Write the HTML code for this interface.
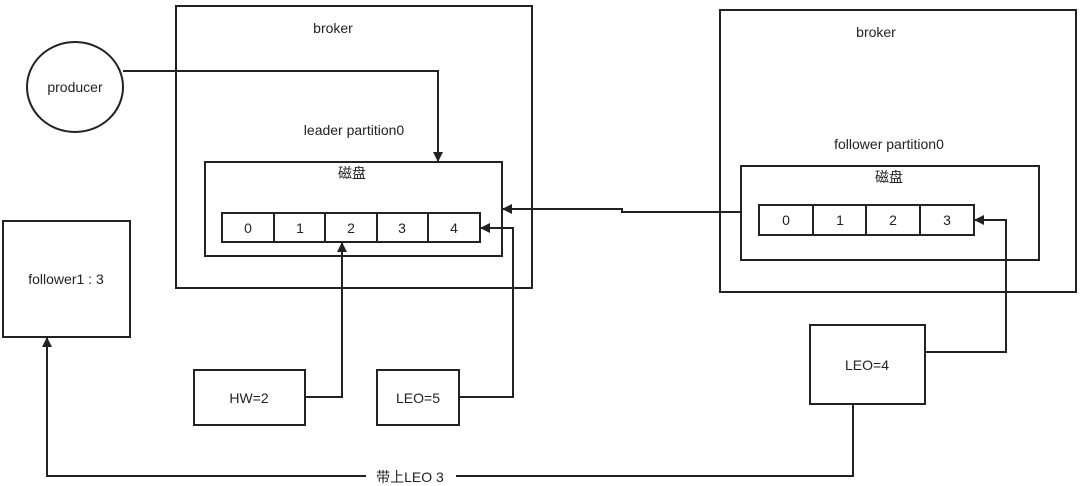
<!DOCTYPE html>
<html><head><meta charset="utf-8"><style>
html,body{margin:0;padding:0;background:#fff;}
svg{display:block;}
text{font-family:"Liberation Sans","Noto Sans CJK SC",sans-serif;font-size:14px;fill:#222;}
</style></head><body>
<svg width="1080" height="486" viewBox="0 0 1080 486" xmlns="http://www.w3.org/2000/svg">
<defs><marker id="a" markerWidth="10" markerHeight="10" refX="9" refY="5" orient="auto" markerUnits="userSpaceOnUse"><path d="M0,0 L10,5 L0,10 z" fill="#222"/></marker></defs>
<g fill="none" stroke="#222" stroke-width="2">
<rect x="176" y="6" width="356" height="282"/>
<rect x="720" y="10" width="356" height="282"/>
<ellipse cx="75" cy="87" rx="48" ry="45"/>
<rect x="205" y="162" width="297" height="94"/>
<rect x="741" y="166" width="298" height="94"/>
<rect x="222" y="213" width="258" height="29"/>
<line x1="274" y1="213" x2="274" y2="242"/><line x1="325" y1="213" x2="325" y2="242"/><line x1="377" y1="213" x2="377" y2="242"/><line x1="428" y1="213" x2="428" y2="242"/>
<rect x="759" y="205" width="215" height="30"/>
<line x1="813" y1="205" x2="813" y2="235"/><line x1="866" y1="205" x2="866" y2="235"/><line x1="920" y1="205" x2="920" y2="235"/>
<rect x="3" y="221" width="127" height="116"/>
<rect x="194" y="370" width="111" height="55"/>
<rect x="377" y="370" width="82" height="55"/>
<rect x="810" y="325" width="115" height="79"/>
<polyline points="123,71 438,71 438,161" marker-end="url(#a)"/>
<polyline points="741,212 622,212 622,209 503,209" marker-end="url(#a)"/>
<polyline points="305,397 342,397 342,243" marker-end="url(#a)"/>
<polyline points="459,397 513,397 513,228 481,228" marker-end="url(#a)"/>
<polyline points="925,352 1006,352 1006,220 975,220" marker-end="url(#a)"/>
<polyline points="853,404 853,476 47,476 47,338" marker-end="url(#a)"/>
</g>
<rect x="366" y="468" width="90" height="16" fill="#fff"/>
<g text-anchor="middle">
<text x="333" y="33">broker</text>
<text x="876" y="37">broker</text>
<text x="75" y="92">producer</text>
<text x="354" y="135">leader partition0</text>
<text x="889" y="149">follower partition0</text>
<text x="352" y="178" font-size="13">磁盘</text>
<text x="889" y="182" font-size="13">磁盘</text>
<text x="248" y="233">0</text><text x="300" y="233">1</text><text x="351" y="233">2</text><text x="402" y="233">3</text><text x="454" y="233">4</text>
<text x="786" y="225">0</text><text x="840" y="225">1</text><text x="893" y="225">2</text><text x="947" y="225">3</text>
<text x="66" y="284">follower1 : 3</text>
<text x="249" y="403">HW=2</text>
<text x="418" y="403">LEO=5</text>
<text x="867" y="370">LEO=4</text>
<text x="410" y="482">带上LEO 3</text>
</g>
</svg>
</body></html>
